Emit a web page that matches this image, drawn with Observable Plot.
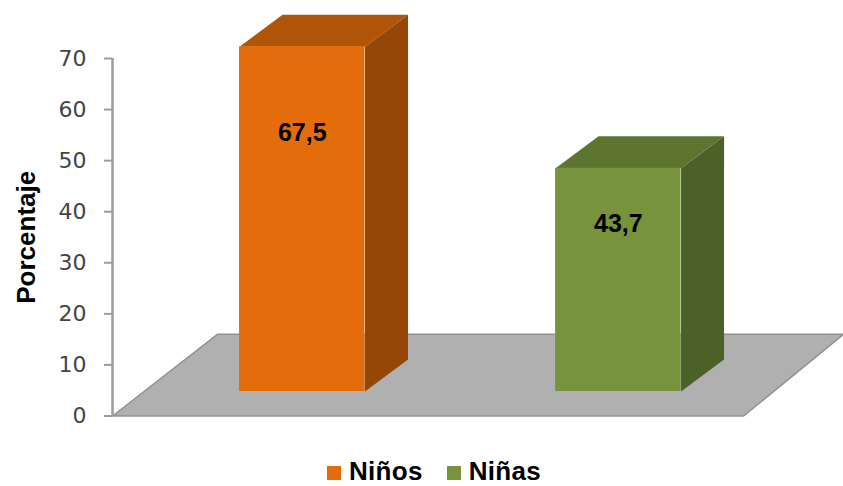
<!DOCTYPE html>
<html>
<head>
<meta charset="utf-8">
<script src="https://cdn.jsdelivr.net/npm/d3@7"></script>
<script src="https://cdn.jsdelivr.net/npm/@observablehq/plot@0.6"></script>
<style>
  html, body { margin: 0; padding: 0; background: #fff; }
  #chart svg { display: block; }
  #legend { display: flex; align-items: center; height: 30px; padding-left: 327px;
    font: bold 26px/30px "Liberation Sans", Arial, sans-serif; letter-spacing: 0.3px; color: #000; }
  #legend i { display: inline-block; width: 14px; height: 14px; margin-right: 8px; position: relative; top: 2px; }
  #legend span { margin-right: 24px; display: flex; align-items: center; }
</style>
</head>
<body>
<div id="chart"></div>
<div id="legend"></div>
<script>
const categories = ["Niños", "Niñas"];
const values = [67.5, 43.7];
const valueLabels = ["67,5", "43,7"];
const yTicks = [0, 10, 20, 30, 40, 50, 60, 70];
const yTitle = "Porcentaje";
const frontColors = ["#E46C0A", "#77933C"];
const topColors = ["#B05407", "#5E7530"];
const sideColors = ["#954806", "#4C6127"];

// Perspective of the 3D box, in scale units
const barStart = 0.402, barWidth = 0.397;
const depthX = 0.136, depthY = 6.27, barBase = 4.8;
const floorDepthX = 0.332, floorDepthY = 16, floorFront = 1.997, xMax = 2.313;

const rows = categories.map((c, i) => ({
  c, v: values[i], label: valueLabels[i],
  x1: i + barStart, x2: i + barStart + barWidth,
  y1: barBase, y2: barBase + values[i],
  front: frontColors[i], top: topColors[i], side: sideColors[i]
}));

const faces = rows.flatMap((r) => [
  ...[[r.x1, r.y2], [r.x1 + depthX, r.y2 + depthY], [r.x2 + depthX, r.y2 + depthY], [r.x2, r.y2], [r.x1, r.y2]]
    .map(([x, y]) => ({x, y, id: r.c + "top", fill: r.top})),
  ...[[r.x2, r.y1], [r.x2 + depthX, r.y1 + depthY], [r.x2 + depthX, r.y2 + depthY], [r.x2, r.y2], [r.x2, r.y1]]
    .map(([x, y]) => ({x, y, id: r.c + "side", fill: r.side}))
]);

const floor = [[0, 0], [floorDepthX, floorDepthY], [xMax, floorDepthY], [floorFront, 0], [0, 0]]
  .map(([x, y]) => ({x, y}));

const plot = Plot.plot({
  width: 843,
  height: 456,
  marginLeft: 112,
  marginRight: 0,
  marginTop: 58,
  marginBottom: 40.5,
  x: {domain: [0, xMax], axis: null},
  y: {domain: [0, 70]},
  color: {type: "identity"},
  style: {background: "#fff", overflow: "visible"},
  marks: [
    Plot.line(floor, {x: "x", y: "y", fill: "#B0B0B0", stroke: "#929292", strokeWidth: 1.5}),
    Plot.axisY(yTicks, {
      tickSize: 8, tickPadding: 18, stroke: "#9C9C9C", strokeWidth: 2, strokeOpacity: 1,
      fill: "#444", fontSize: 22, fontFamily: "DejaVu Sans",
      label: null, tickFormat: (d) => String(d)
    }),
    Plot.ruleX([0], {y1: 0, y2: 70, stroke: "#9C9C9C", strokeWidth: 2.5}),
    Plot.text([yTitle], {
      text: (d) => d, frameAnchor: "left", textAnchor: "middle", dx: -86, y: 35, rotate: -90,
      fontSize: 26, fontWeight: "bold", fontFamily: "Liberation Sans", fill: "#000",
      letterSpacing: 1
    }),
    Plot.line(faces, {x: "x", y: "y", z: "id", fill: "fill", stroke: null}),
    Plot.rect(rows, {x1: "x1", x2: "x2", y1: "y1", y2: "y2", fill: "front"}),
    Plot.text(rows, {
      x: (d) => (d.x1 + d.x2) / 2,
      y: (d) => d.y1 + d.v * 0.75,
      text: "label",
      fontSize: 25, fontWeight: "bold", fontFamily: "Liberation Sans", fill: "#000"
    })
  ]
});
document.getElementById("chart").append(plot);

const legend = document.getElementById("legend");
categories.forEach((c, i) => {
  const s = document.createElement("span");
  const sw = document.createElement("i");
  sw.style.background = frontColors[i];
  s.append(sw, document.createTextNode(c));
  legend.append(s);
});
</script>
</body>
</html>
